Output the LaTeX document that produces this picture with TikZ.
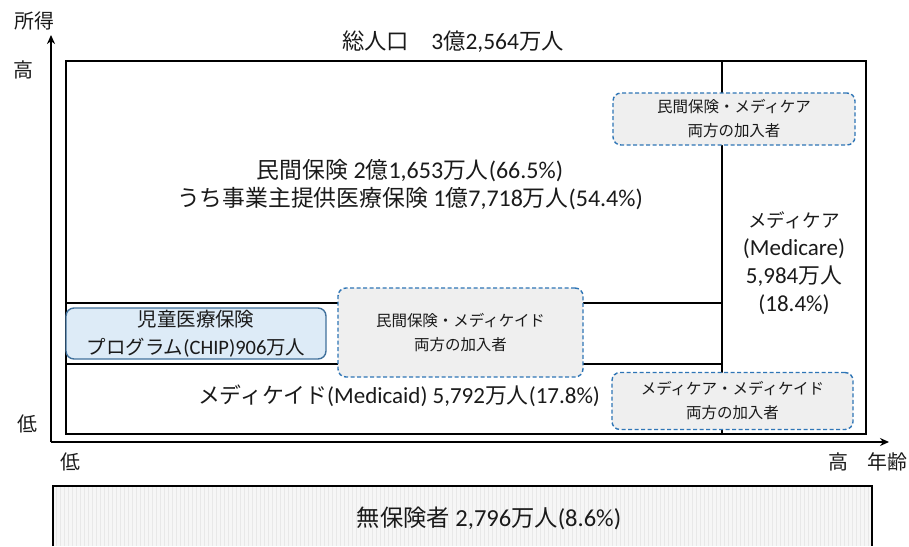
\documentclass[tikz,border=0pt]{standalone}
\usepackage{fontspec}
\setmainfont{Carlito}
\newfontfamily\jp{Noto Sans CJK JP}[Scale=0.95]
\usetikzlibrary{arrows.meta}
\definecolor{dblue}{HTML}{2E75B6}
\definecolor{boxgray}{HTML}{EFEFEF}
\definecolor{chipfill}{HTML}{DDEBF7}
\definecolor{chipedge}{HTML}{41719C}
\definecolor{ink}{HTML}{1A1A1A}
\newcommand\fs[2]{\fontsize{#1}{#2}\selectfont}
\begin{document}
\begin{tikzpicture}[x=1pt,y=-1pt, text=ink,
  frame/.style={draw=black, line width=1.7pt},
  axisline/.style={draw=black, line width=1.8pt, -{Stealth[length=9pt,width=8pt]}},
  dashbox/.style={draw=dblue, dashed, dash pattern=on 4pt off 2.5pt, line width=1.4pt, rounded corners=8pt, fill=boxgray,
    align=center, inner sep=0pt, font=\jp\fs{16.3}{24}},
  chipbox/.style={draw=chipedge, line width=1.4pt, rounded corners=8pt, fill=chipfill,
    align=center, inner sep=0pt, font=\fs{20.5}{28}},
  lbl/.style={align=center, inner sep=0pt},
  axlbl/.style={lbl, font=\jp\fs{21}{22}}
]
\useasboundingbox (0,0) rectangle (909,546);

% uninsured box at bottom
\fill[gray!7] (53,486) rectangle (872,546);
\begin{scope}
\clip (53,486) rectangle (872,546);
\draw[gray!18, line width=0.3pt, step=4] (53,486) grid (872,546);
\end{scope}
\draw[line width=1.7pt] (53,546) -- (53,486) -- (872,486) -- (872,546);
\node[lbl, font=\fs{24.5}{26}] (uninsured) at (489,518) {{\jp 無保険者} 2,796{\jp 万人}(8.6\%)};

% main frame
\draw[frame] (66,61) rectangle (866,434);
\coordinate (divtop) at (722,61);
\coordinate (divbot) at (722,434);
\draw[frame] (divtop) -- (divbot);
\coordinate (p1l) at (66,303); \coordinate (p1r) at (722,303);
\coordinate (p2l) at (66,364); \coordinate (p2r) at (722,364);
\draw[frame] (p1l) -- (p1r);
\draw[frame] (p2l) -- (p2r);

% axes
\coordinate (origin) at (51,442);
\coordinate (ytip) at (51,35);
\coordinate (xtip) at (889,442);
\draw[axisline] (origin) -- (ytip);
\draw[axisline] (origin) -- (xtip);

% axis labels
\node[axlbl] (shotoku) at (34,21) {所得};
\node[axlbl] (yhigh) at (23,70) {高};
\node[axlbl] (ylow) at (27,424) {低};
\node[axlbl] (xlow) at (70,462) {低};
\node[axlbl] (xhigh) at (838,462) {高};
\node[axlbl] (nenrei) at (887,462) {年齢};

% title
\node[lbl, font=\fs{23.5}{26}] (total) at (453,42) {{\jp 総人口}\hspace{22pt}3{\jp 億}2,564{\jp 万人}};

% private insurance
\node[lbl, font=\fs{24}{28}] (private) at (410,185) {{\jp 民間保険} 2{\jp 億}1,653{\jp 万人}(66.5\%)\\
  {\jp うち事業主提供医療保険} 1{\jp 億}7,718{\jp 万人}(54.4\%)};

% medicare
\node[lbl, font=\fs{23}{28}] (medicare) at (794,263.5)
  {{\jp\fs{19.5}{28}メディケア}\\(Medicare)\\5,984{\jp 万人}\\(18.4\%)};

% medicaid
\node[lbl, font=\fs{23}{26}] (medicaid) at (399,396) {{\jp メディケイド}(Medicaid) 5,792{\jp 万人}(17.8\%)};

% overlap boxes
\node[dashbox, minimum width=242pt, minimum height=52pt] (privmcare) at (734,119)
  {民間保険・メディケア\\両方の加入者};
\node[dashbox, minimum width=245pt, minimum height=89pt] (privmcaid) at (460.5,332.5)
  {民間保険・メディケイド\\両方の加入者};
\node[dashbox, minimum width=241pt, minimum height=57pt] (mcaremcaid) at (732.5,401)
  {メディケア・メディケイド\\両方の加入者};

% CHIP
\node[chipbox, minimum width=260pt, minimum height=51pt] (chip) at (196,333.5)
  {{\jp 児童医療保険}\\{\jp プログラム}(CHIP)906{\jp 万人}};
\end{tikzpicture}
\end{document}
